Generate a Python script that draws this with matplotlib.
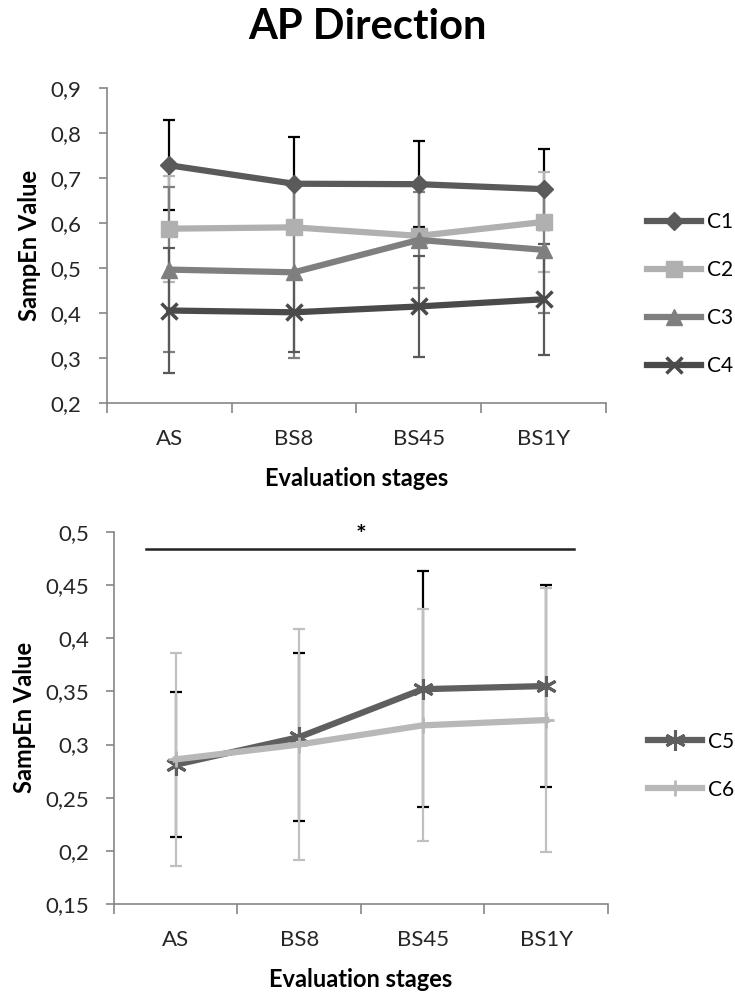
import numpy as np
import matplotlib
matplotlib.use('Agg')
import matplotlib.pyplot as plt
from matplotlib.ticker import FixedLocator, FuncFormatter

plt.rcParams['font.family'] = ['Lato', 'DejaVu Sans']

stages = ['AS', 'BS8', 'BS45', 'BS1Y']

# top panel: AP direction, groups C1-C4 (mean, sd)
c1 = [0.728, 0.687, 0.686, 0.675]
c1_sd = [0.100, 0.104, 0.096, 0.090]
c2 = [0.587, 0.590, 0.571, 0.602]
c2_sd = [0.118, 0.100, 0.115, 0.112]
c3 = [0.496, 0.490, 0.562, 0.540]
c3_sd = [0.184, 0.190, 0.107, 0.141]
c4 = [0.405, 0.401, 0.414, 0.430]
c4_sd = [0.138, 0.088, 0.112, 0.123]

# bottom panel: groups C5-C6
c5 = [0.281, 0.307, 0.352, 0.355]
c5_sd = [0.068, 0.079, 0.111, 0.095]
c6 = [0.286, 0.300, 0.318, 0.323]
c6_sd = [0.100, 0.109, 0.109, 0.124]

yt_top = [0.2, 0.3, 0.4, 0.5, 0.6, 0.7, 0.8, 0.9]
yt_bot = [0.15, 0.2, 0.25, 0.3, 0.35, 0.4, 0.45, 0.5]

x = np.arange(len(stages))
comma = FuncFormatter(lambda v, p: f'{v:g}'.replace('.', ','))

fig = plt.figure(figsize=(7.35, 9.94), dpi=100)
ax1 = fig.add_axes([0.1452, 0.5949, 0.6793, 0.3166])
ax2 = fig.add_axes([0.1551, 0.0905, 0.6721, 0.3745])

fig.text(0.5, 0.973, 'AP Direction', ha='center', va='center',
         fontsize=30, fontweight='bold')


def style(ax, yt, ylpad):
    ax.set_xlim(-0.5, len(stages) - 0.5)
    ax.set_ylim(yt[0], yt[-1])
    for s in ['top', 'right']:
        ax.spines[s].set_visible(False)
    for s in ['left', 'bottom']:
        ax.spines[s].set_color('#868686')
        ax.spines[s].set_linewidth(1.2)
    ax.yaxis.set_major_locator(FixedLocator(yt))
    ax.yaxis.set_major_formatter(comma)
    ax.set_xticks(x)
    ax.set_xticklabels(stages)
    ax.xaxis.set_minor_locator(FixedLocator(np.arange(-0.5, len(stages), 1)))
    ax.tick_params(axis='x', which='major', length=0, pad=19, labelsize=16,
                   labelcolor='#262626')
    ax.tick_params(axis='x', which='minor', length=7, width=1.2, color='#868686')
    ax.tick_params(axis='y', length=6, width=1.2, color='#868686', pad=12,
                   labelsize=16, labelcolor='#262626')
    ax.set_xlabel('Evaluation stages', fontsize=17, fontweight='bold', labelpad=13)
    ax.set_ylabel('SampEn Value', fontsize=17, fontweight='bold', labelpad=ylpad)


style(ax1, yt_top, 7)
style(ax2, yt_bot, 7)

eb = dict(fmt='none', capsize=4.5, elinewidth=1.6, capthick=1.6)
ax1.errorbar(x, c1, yerr=c1_sd, ecolor='black', zorder=2, **eb)
ax1.errorbar(x, c2, yerr=c2_sd, ecolor='#b4b4b4', zorder=2.1, **eb)
ax1.errorbar(x, c3, yerr=c3_sd, ecolor='#7f7f7f', zorder=2.2, **eb)
ax1.errorbar(x, c4, yerr=c4_sd, ecolor='#595959', zorder=2.3, **eb)

ax1.plot(x, c1, color='#5a5a5a', lw=4.5, marker='D', ms=9.5, label='C1', zorder=4)
ax1.plot(x, c2, color='#b0b0b0', lw=4.5, marker='s', ms=12, label='C2', zorder=4.1)
ax1.plot(x, c3, color='#7f7f7f', lw=4.5, marker='^', ms=12, label='C3', zorder=4.2)
ax1.plot(x, c4, color='#4a4a4a', lw=4.5, marker='x', ms=12, mew=2.5,
         label='C4', zorder=4.3)

ax2.errorbar(x, c5, yerr=c5_sd, ecolor='black', zorder=2, **eb)
ax2.errorbar(x, c6, yerr=c6_sd, ecolor='#c0c0c0', zorder=2.1, **eb)
ax2.plot(x, c5, color='#5f5f5f', lw=4.5, marker=(6, 2, 0), ms=15, mew=2.2,
         label='C5', zorder=4)
ax2.plot(x, c6, color='#b8b8b8', lw=4.5, marker='+', ms=11, mew=2,
         label='C6', zorder=4.1)

# significance bar
ax2.plot([-0.243, 3.222], [0.4835, 0.4835], color='#222222', lw=1.8,
         clip_on=False, zorder=5)
ax2.text(1.5, 0.4855, '*', ha='center', va='bottom', fontsize=18,
         fontweight='bold', clip_on=False)

leg = dict(frameon=False, loc='center left', fontsize=15, handlelength=2.6,
           handletextpad=0.3, borderpad=0, borderaxespad=0)
ax1.legend(bbox_to_anchor=(1.0815, 0.345), labelspacing=1.35, **leg)
ax2.legend(bbox_to_anchor=(1.081, 0.372), labelspacing=1.35, **leg)

fig.savefig('out.png', dpi=100)
